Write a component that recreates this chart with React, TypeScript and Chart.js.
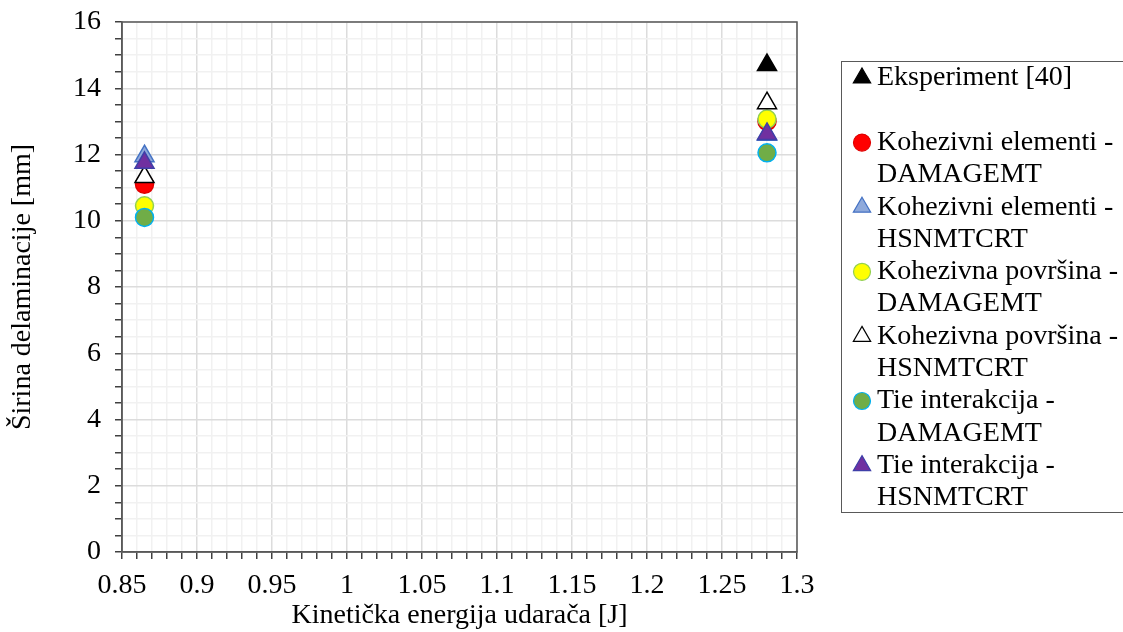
import React, { useEffect, useRef } from "react";
import { Chart, registerables } from "chart.js";

Chart.register(...registerables);

const xValues = [0.865, 1.28];
const eksperiment = [null, 14.7];
const kohElementiDamage = [11.1, 13.0];
const kohElementiHsn = [11.95, 12.6];
const kohPovrsinaDamage = [10.45, 13.07];
const kohPovrsinaHsn = [11.32, 13.55];
const tieDamage = [10.1, 12.05];
const tieHsn = [11.75, 12.62];

const seriesLabels = [
  "Eksperiment [40]",
  "Kohezivni elementi - DAMAGEMT",
  "Kohezivni elementi - HSNMTCRT",
  "Kohezivna površina - DAMAGEMT",
  "Kohezivna površina - HSNMTCRT",
  "Tie interakcija - DAMAGEMT",
  "Tie interakcija - HSNMTCRT",
];
const seriesValues = [eksperiment, kohElementiDamage, kohElementiHsn, kohPovrsinaDamage, kohPovrsinaHsn, tieDamage, tieHsn];
const seriesStyles = [
  { style: "triangle", fill: "#000000", stroke: "#000000" },
  { style: "circle", fill: "#FF0000", stroke: "#E00000" },
  { style: "triangle", fill: "#8EA9DB", stroke: "#4472C4" },
  { style: "circle", fill: "#FFFF00", stroke: "#92D050" },
  { style: "triangle", fill: "#FFFFFF", stroke: "#000000" },
  { style: "circle", fill: "#70AD47", stroke: "#00B0F0" },
  { style: "triangle", fill: "#7030A0", stroke: "#3F3FA8" },
];

const xTitle = "Kinetička energija udarača [J]";
const yTitle = "Širina delaminacije [mm]";
const FONT = "'Times New Roman', 'Liberation Serif', serif";

const frameAndLegend = {
  id: "frameAndLegend",
  afterDraw(chart: any) {
    const ctx = chart.ctx;
    const a = chart.chartArea;
    ctx.save();
    ctx.strokeStyle = "#595959";
    ctx.lineWidth = 1.5;
    ctx.strokeRect(a.left, a.top, a.right - a.left, a.bottom - a.top);

    // legend box
    ctx.strokeStyle = "#595959";
    ctx.lineWidth = 1;
    ctx.strokeRect(841.5, 61.5, 300, 451);
    ctx.font = "28px " + FONT;
    ctx.fillStyle = "#000000";
    ctx.textBaseline = "middle";
    ctx.textAlign = "left";
    const rowH = 32.3;
    let row = 0;
    const y0 = 78;
    seriesLabels.forEach((label, i) => {
      const st = seriesStyles[i];
      const parts = label.includes(" - ") ? [label.split(" - ")[0] + " -", label.split(" - ")[1]] : [label];
      const cy = y0 + rowH * row;
      const mx = 862;
      ctx.beginPath();
      if (st.style === "circle") {
        ctx.arc(mx, cy, 8.5, 0, Math.PI * 2);
      } else {
        const r = 10;
        ctx.moveTo(mx, cy - r);
        ctx.lineTo(mx + r * Math.sin((2 * Math.PI) / 3), cy + r / 2);
        ctx.lineTo(mx - r * Math.sin((2 * Math.PI) / 3), cy + r / 2);
        ctx.closePath();
      }
      ctx.fillStyle = st.fill;
      ctx.fill();
      ctx.strokeStyle = st.stroke;
      ctx.lineWidth = 1.2;
      ctx.stroke();
      ctx.fillStyle = "#000000";
      parts.forEach((p, k) => {
        ctx.fillText(p, 877, y0 + rowH * (row + k));
      });
      row += parts.length;
      if (i === 0) row += 1;
    });
    ctx.restore();
  },
};

const isMajorX = (v: number) => Math.abs(v * 20 - Math.round(v * 20)) < 1e-6;
const isMajorY = (v: number) => Math.abs(v / 2 - Math.round(v / 2)) < 1e-6;

export default function App() {
  const ref = useRef<HTMLCanvasElement | null>(null);
  useEffect(() => {
    if (!ref.current) return;
    const n = seriesLabels.length;
    const chart = new Chart(ref.current, {
      type: "scatter",
      data: {
        datasets: seriesLabels.map((label, i) => ({
          label,
          data: xValues.map((x, k) => ({ x, y: seriesValues[i][k] as any })),
          pointStyle: seriesStyles[i].style as any,
          backgroundColor: seriesStyles[i].fill,
          borderColor: seriesStyles[i].stroke,
          borderWidth: 1.5,
          pointRadius: seriesStyles[i].style === "circle" ? 9 : 11,
          showLine: false,
          order: n - i,
        })),
      },
      options: {
        animation: false,
        responsive: false,
        devicePixelRatio: 1,
        layout: { padding: { left: 0, top: 22, right: 326, bottom: 0 } },
        plugins: { legend: { display: false }, tooltip: { enabled: false } },
        scales: {
          x: {
            type: "linear",
            min: 0.85,
            max: 1.3,
            afterFit: (s: any) => {
              s.height = 80;
              s.paddingLeft = 0;
              s.paddingRight = 0;
            },
            ticks: {
              stepSize: 0.01,
              autoSkip: false,
              maxRotation: 0,
              padding: 10,
              color: "#000000",
              font: { family: FONT, size: 28 },
              callback: (v: any) => (isMajorX(Number(v)) ? String(Number(Number(v).toFixed(2))) : ""),
            },
            grid: {
              color: (c: any) => (isMajorX(c.tick ? c.tick.value : 0) ? "#dcdcdc" : "#f1f1f1"),
              lineWidth: 1.5,
              tickColor: "#404040",
              tickLength: 7,
            },
            border: { color: "#595959", width: 1.5 },
            title: {
              display: true,
              text: xTitle,
              color: "#000000",
              font: { family: FONT, size: 28 },
              padding: { top: 0, bottom: 0 },
            },
          },
          y: {
            type: "linear",
            min: 0,
            max: 16,
            afterFit: (s: any) => {
              s.width = 122;
              s.paddingTop = 0;
              s.paddingBottom = 0;
            },
            ticks: {
              stepSize: 0.5,
              autoSkip: false,
              padding: 14,
              color: "#000000",
              font: { family: FONT, size: 28 },
              callback: (v: any) => (isMajorY(Number(v)) ? String(v) : ""),
            },
            grid: {
              color: (c: any) => (isMajorY(c.tick ? c.tick.value : 0) ? "#dcdcdc" : "#f1f1f1"),
              lineWidth: 1.5,
              tickColor: "#404040",
              tickLength: 7,
            },
            border: { color: "#595959", width: 1.5 },
            title: {
              display: true,
              text: yTitle,
              color: "#000000",
              font: { family: FONT, size: 28 },
              padding: { top: 6, bottom: 0 },
            },
          },
        },
      },
      plugins: [frameAndLegend],
    });
    return () => chart.destroy();
  }, []);
  return (
    <div style={{ position: "absolute", left: 0, top: 0, width: 1123, height: 632, background: "#ffffff" }}>
      <canvas ref={ref} width={1123} height={632} />
    </div>
  );
}
